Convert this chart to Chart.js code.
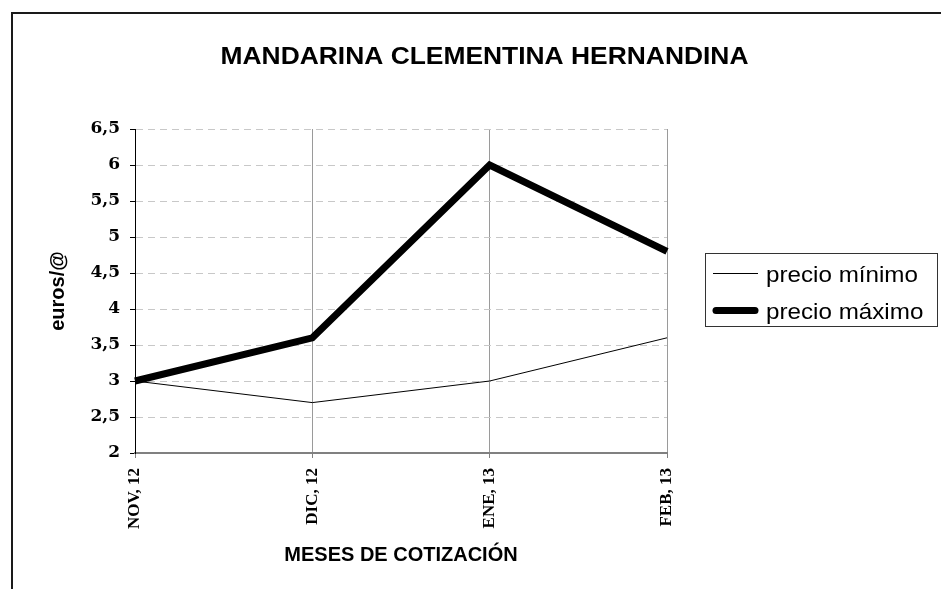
<!DOCTYPE html>
<html><head><meta charset="utf-8">
<script src="https://cdn.jsdelivr.net/npm/chart.js@4"></script>
<style>html,body{margin:0;padding:0;background:#fff;} canvas{display:block;}</style>
</head><body>
<canvas id="c" width="941" height="589"></canvas>
<script>
const chartTitle = 'MANDARINA CLEMENTINA HERNANDINA';
const months = ['NOV, 12', 'DIC, 12', 'ENE, 13', 'FEB, 13'];
const seriesNames = ['precio mínimo', 'precio máximo'];
const precioMinimo = [3, 2.7, 3, 3.6];
const precioMaximo = [3, 3.6, 6, 4.8];
const yTicks = [2, 2.5, 3, 3.5, 4, 4.5, 5, 5.5, 6, 6.5];
const yTickLabels = ['2', '2,5', '3', '3,5', '4', '4,5', '5', '5,5', '6', '6,5'];
const yTitle = 'euros/@';
const xTitle = 'MESES DE COTIZACIÓN';

const framePlugin = {
  id: 'frame',
  beforeDraw(chart) {
    const ctx = chart.ctx;
    ctx.save();
    ctx.fillStyle = '#fff';
    ctx.fillRect(0, 0, chart.width, chart.height);
    ctx.strokeStyle = '#1a1a1a';
    ctx.lineWidth = 2;
    ctx.beginPath();
    ctx.moveTo(12, chart.height + 5);
    ctx.lineTo(12, 13);
    ctx.lineTo(chart.width + 5, 13);
    ctx.stroke();
    ctx.restore();
  },
  afterDraw(chart) {
    const ctx = chart.ctx;
    // title
    ctx.save();
    ctx.fillStyle = '#000';
    ctx.font = 'bold 24px "Liberation Sans", Arial, sans-serif';
    ctx.textAlign = 'center';
    ctx.textBaseline = 'alphabetic';
    ctx.translate(484.5, 64);
    ctx.scale(1.1, 1);
    ctx.fillText(chartTitle, 0, 0);
    ctx.restore();
    // legend
    ctx.save();
    ctx.strokeStyle = '#333';
    ctx.lineWidth = 1;
    ctx.strokeRect(705.5, 253.5, 232, 73);
    const rows = [273, 310];
    chart.data.datasets.forEach((ds, i) => {
      const y = rows[i];
      const thick = ds.borderWidth > 2;
      ctx.save();
      ctx.strokeStyle = ds.borderColor;
      ctx.lineWidth = ds.borderWidth;
      ctx.lineCap = thick ? 'round' : 'butt';
      ctx.beginPath();
      ctx.moveTo(713 + (thick ? 3 : 0), y + 0.5);
      ctx.lineTo(758 - (thick ? 3 : 0), y + 0.5);
      ctx.stroke();
      ctx.restore();
      ctx.save();
      ctx.fillStyle = '#000';
      ctx.font = '22px "Liberation Sans", Arial, sans-serif';
      ctx.textAlign = 'left';
      ctx.textBaseline = 'alphabetic';
      ctx.translate(766, y + 9);
      ctx.scale(1.1, 1);
      ctx.fillText(ds.label, 0, 0);
      ctx.restore();
    });
    ctx.restore();
  }
};

new Chart(document.getElementById('c'), {
  type: 'line',
  data: {
    labels: months,
    datasets: [
      { label: seriesNames[0], data: precioMinimo, borderColor: '#000', borderWidth: 1, pointRadius: 0, tension: 0, fill: false },
      { label: seriesNames[1], data: precioMaximo, borderColor: '#000', borderWidth: 7, pointRadius: 0, tension: 0, fill: false, borderJoinStyle: 'miter', borderCapStyle: 'butt' }
    ]
  },
  options: {
    responsive: false,
    animation: false,
    layout: { padding: { left: 0, top: 129, right: 274, bottom: 0 } },
    plugins: { legend: { display: false }, title: { display: false }, tooltip: { enabled: false } },
    scales: {
      x: {
        type: 'category',
        offset: false,
        grid: {
          color: c => c.index === 0 ? 'rgba(0,0,0,0)' : '#9a9a9a',
          lineWidth: 1, drawTicks: true, tickLength: 5, tickColor: '#808080', tickWidth: 1
        },
        border: { display: true, color: '#808080', width: 2 },
        ticks: {
          minRotation: 90, maxRotation: 90, autoSkip: false, padding: 10, color: '#000',
          font: { family: '"Liberation Serif", "Times New Roman", serif', weight: 'bold', size: 17 }
        },
        title: {
          display: true, text: xTitle, color: '#000',
          font: { family: '"Liberation Sans", Arial, sans-serif', weight: 'bold', size: 20 },
          padding: { top: 0, bottom: 22 }
        },
        afterFit: s => { s.height = 136; }
      },
      y: {
        min: 2, max: 6.5,
        afterBuildTicks: s => { s.ticks = yTicks.map(v => ({ value: v })); },
        grid: {
          color: c => c.index === 0 ? 'rgba(0,0,0,0)' : '#c8c8c8',
          lineWidth: 1, tickColor: '#000', tickLength: 5, tickWidth: 1
        },
        border: { display: true, color: '#000', width: 1, dash: [7, 5] },
        ticks: {
          padding: 10, color: '#000',
          font: { family: '"DejaVu Serif", serif', weight: 'bold', size: 17 },
          callback: v => yTickLabels[yTicks.indexOf(v)]
        },
        title: {
          display: true, text: yTitle, color: '#000',
          font: { family: '"Liberation Sans", Arial, sans-serif', weight: 'bold', size: 20 },
          padding: { top: 46, bottom: 0 }
        },
        afterFit: s => { s.width = 135; }
      }
    }
  },
  plugins: [framePlugin]
});
</script>
</body></html>
